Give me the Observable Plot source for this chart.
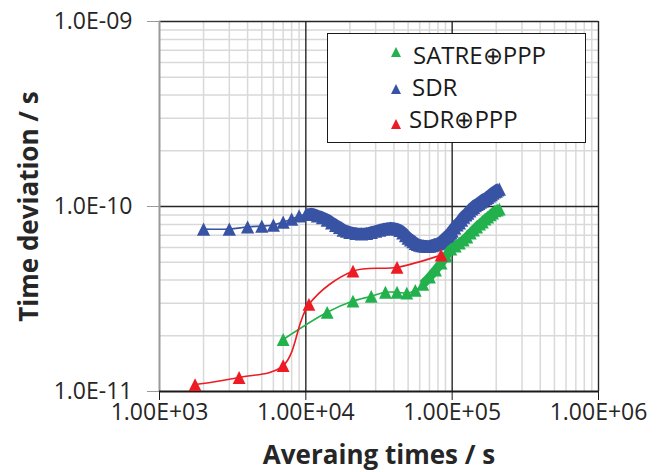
<!DOCTYPE html>
<html><head><meta charset="utf-8">
<script src="https://cdn.jsdelivr.net/npm/d3@7"></script>
<script src="https://cdn.jsdelivr.net/npm/@observablehq/plot@0.6"></script>
<style>
body{margin:0;background:#fff;}
#wrap{position:relative;width:668px;height:472px;}
#legend{position:absolute;left:326.5px;top:33px;width:259px;height:110px;box-sizing:border-box;background:#fff;border:1.5px solid #1a1a1a;}
.lt{position:absolute;font-family:"Open Sans",sans-serif;font-size:24px;line-height:1;color:#1a1a1a;white-space:nowrap;}
.lm{position:absolute;}
</style></head><body><div id="wrap"></div>
<script>
const seriesNames = ["SATRE⊕PPP", "SDR", "SDR⊕PPP"];
const seriesColors = ["#22b14c", "#3953a4", "#ed1c24"];

const satreTau = [7000,14000,21000,28000,35000,42000,49000,56000,63000,70000,77000,84000,91000,98000,105000,112000,119000,126000,133000,140000,147000,154000,161000,168000,175000,182000,189000,196000,203000,210000];
const satreTdev = [1.91e-11,2.68e-11,3.08e-11,3.27e-11,3.44e-11,3.44e-11,3.40e-11,3.52e-11,3.80e-11,4.15e-11,4.53e-11,4.94e-11,5.40e-11,5.89e-11,6.11e-11,6.34e-11,6.58e-11,6.84e-11,7.18e-11,7.46e-11,7.75e-11,8.04e-11,8.24e-11,8.55e-11,8.77e-11,9.0e-11,9.22e-11,9.46e-11,9.57e-11,9.69e-11];

const sdrTau = [2000,3000,4000,5000,6000,7000,8000,9000,10000,11000,12000,13000,14000,15000,16000,17000,18000,19000,20000,
 22000,24000,26000,28000,30000,32000,34000,36000,38000,40000,42000,44000,46000,48000,50000,52000,54000,56000,58000,60000,
 62000,64000,66000,68000,70000,72000,74000,76000,78000,80000,82000,84000,86000,88000,90000,92000,94000,96000,98000,100000,
 104000,108000,112000,116000,120000,124000,128000,132000,136000,140000,144000,148000,152000,156000,160000,
 165000,170000,175000,180000,185000,190000,195000,200000,205000,210000];
const sdrTdev = [7.55e-11,7.55e-11,7.75e-11,7.84e-11,7.94e-11,8.24e-11,8.55e-11,8.89e-11,9.05e-11,9.10e-11,8.9e-11,8.7e-11,8.45e-11,8.15e-11,7.9e-11,7.7e-11,7.45e-11,7.35e-11,7.25e-11,
 7.15e-11,7.12e-11,7.15e-11,7.25e-11,7.35e-11,7.45e-11,7.55e-11,7.6e-11,7.65e-11,7.62e-11,7.55e-11,7.42e-11,7.2e-11,6.95e-11,6.75e-11,6.6e-11,6.45e-11,6.32e-11,6.23e-11,6.18e-11,
 6.14e-11,6.12e-11,6.11e-11,6.1e-11,6.11e-11,6.14e-11,6.18e-11,6.22e-11,6.27e-11,6.3e-11,6.34e-11,6.42e-11,6.52e-11,6.63e-11,6.75e-11,6.85e-11,6.96e-11,7.08e-11,7.2e-11,7.35e-11,
 7.65e-11,7.95e-11,8.15e-11,8.45e-11,8.75e-11,9.0e-11,9.2e-11,9.46e-11,9.7e-11,9.9e-11,1.01e-10,1.025e-10,1.04e-10,1.055e-10,1.07e-10,
 1.09e-10,1.105e-10,1.12e-10,1.14e-10,1.16e-10,1.18e-10,1.2e-10,1.21e-10,1.23e-10,1.24e-10];

const sdrPppTau = [1750,3500,7000,10500,21000,42000,84000];
const sdrPppTdev = [1.09e-11,1.19e-11,1.38e-11,2.96e-11,4.47e-11,4.69e-11,5.46e-11];

const xTicks = [1e3, 1e4, 1e5, 1e6];
const xTickLabels = ["1.00E+03", "1.00E+04", "1.00E+05", "1.00E+06"];
const yTicks = [1e-11, 1e-10, 1e-9];
const yTickLabels = ["1.0E-11", "1.0E-10", "1.0E-09"];
const xTitle = "Averaing times / s";
const yTitle = "Time deviation / s";

const toRows = (tau, v) => tau.map((t, i) => ({tau: t, tdev: v[i]}));
const satre = toRows(satreTau, satreTdev);
const sdr = toRows(sdrTau, sdrTdev);
const sdrPpp = toRows(sdrPppTau, sdrPppTdev);

const minorX = []; for (const d of [1e3, 1e4, 1e5]) for (let k = 2; k <= 9; k++) minorX.push(d * k);
const minorY = []; for (const d of [1e-11, 1e-10]) for (let k = 2; k <= 9; k++) minorY.push(d * k);

const tri = {draw(ctx, size) { const s = Math.sqrt(size / Math.PI); ctx.moveTo(0, -s); ctx.lineTo(s, s); ctx.lineTo(-s, s); ctx.closePath(); }};

const lineOpts = (c, w) => ({x: "tau", y: "tdev", stroke: c, strokeWidth: w, curve: "catmull-rom", strokeLinecap: "butt"});
const dotOpts = (c, r) => ({x: "tau", y: "tdev", symbol: tri, r, fill: c, stroke: "none"});

const chart = Plot.plot({
  width: 668, height: 472,
  marginLeft: 159, marginRight: 70, marginTop: 21, marginBottom: 81,
  x: {type: "log", domain: [1e3, 1e6]},
  y: {type: "log", domain: [1e-11, 1e-9]},
  style: {fontFamily: "'Open Sans', sans-serif", fontSize: "23px", color: "#262626", background: "#fff"},
  marks: [
    Plot.ruleX(minorX, {stroke: "#d9d9d9", strokeWidth: 1.5}),
    Plot.ruleY(minorY, {stroke: "#d9d9d9", strokeWidth: 1.5}),
    Plot.ruleX([1e4, 1e5, 1e6], {stroke: "#262626", strokeWidth: 1.4}),
    Plot.ruleY([1e-10, 1e-9], {stroke: "#262626", strokeWidth: 1.4}),
    Plot.ruleX([1e3], {stroke: "#9a9a9a", strokeWidth: 2}),
    Plot.ruleY([1e-11], {stroke: "#1a1a1a", strokeWidth: 2}),
    Plot.line(sdr, lineOpts(seriesColors[1], 1.6)),
    Plot.line(sdr.filter(d => d.tau >= 10000), lineOpts(seriesColors[1], 12)),
    Plot.dot(sdr, dotOpts(seriesColors[1], 6.6)),
    Plot.line(satre, lineOpts(seriesColors[0], 1.6)),
    Plot.line(satre.filter(d => d.tau >= 63000), lineOpts(seriesColors[0], 9)),
    Plot.dot(satre, dotOpts(seriesColors[0], 6.4)),
    Plot.line(sdrPpp, lineOpts(seriesColors[2], 1.6)),
    Plot.dot(sdrPpp, dotOpts(seriesColors[2], 6.4)),
    Plot.axisX(xTicks, {tickFormat: d => xTickLabels[xTicks.indexOf(d)], tickSize: 9, tickPadding: 3, stroke: "#1a1a1a", fill: "#262626", fontSize: 23, label: null}),
    Plot.axisY(yTicks, {tickFormat: d => yTickLabels[yTicks.indexOf(d)], tickSize: 12, tickPadding: 15, stroke: "#9a9a9a", fill: "#262626", fontSize: 23, label: null}),
    Plot.text([yTitle], {text: d => d, frameAnchor: "left", dx: -130, rotate: -90, textAnchor: "middle", lineAnchor: "middle", fontWeight: "bold", fontSize: 26, fill: "#262626"}),
    Plot.text([xTitle], {text: d => d, frameAnchor: "bottom", dy: 64, textAnchor: "middle", lineAnchor: "middle", fontWeight: "bold", fontSize: 26, fill: "#262626"})
  ]
});
const wrap = document.getElementById("wrap");
wrap.appendChild(chart);

// legend
const lg = document.createElement("div"); lg.id = "legend"; wrap.appendChild(lg);
const legMarkers = [[395.7, 52.3], [395.7, 89], [395.7, 124.3]];
const legText = [[413, 43.3], [412, 75.3], [409, 106.8]];
seriesNames.forEach((name, i) => {
  const m = document.createElementNS("http://www.w3.org/2000/svg", "svg");
  m.setAttribute("class", "lm"); m.setAttribute("width", 10); m.setAttribute("height", 10);
  m.style.left = (legMarkers[i][0] - 5) + "px"; m.style.top = (legMarkers[i][1] - 5) + "px";
  m.innerHTML = `<path d="M5,0L10,10L0,10Z" fill="${seriesColors[i]}"/>`;
  wrap.appendChild(m);
  const t = document.createElement("div"); t.className = "lt"; t.textContent = name;
  t.style.left = legText[i][0] + "px"; t.style.top = legText[i][1] + "px";
  wrap.appendChild(t);
});
</script></body></html>
